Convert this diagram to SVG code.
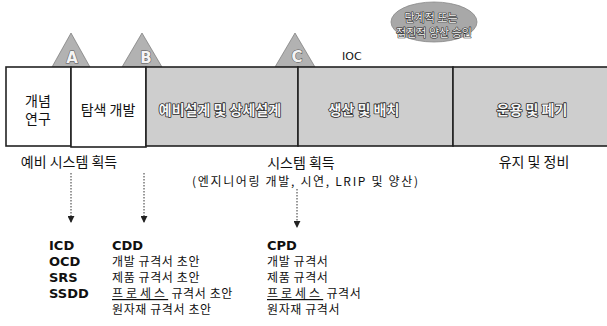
<svg xmlns="http://www.w3.org/2000/svg" width="607" height="326" viewBox="0 0 607 326">
<defs>
<style>
.k{font-family:"Noto Sans CJK KR","DejaVu Sans",sans-serif;fill:#111}
.box{stroke:#222;stroke-width:1.6}
.w{fill:#fff}
.g{fill:#cecece}
.tri{fill:#b2b2b2;stroke:#666;stroke-width:0.6}
.emb{font-family:"Noto Sans CJK KR","DejaVu Sans",sans-serif;font-weight:bold;fill:#f6f6f6;stroke:#2a2a2a;stroke-width:1.6;paint-order:stroke;stroke-linejoin:round}
.lt{font-family:"DejaVu Sans","Liberation Sans",sans-serif;font-weight:bold;fill:#f4f4f4;stroke:#555;stroke-width:1;paint-order:stroke}
.b{font-family:"DejaVu Sans","Liberation Sans",sans-serif;font-weight:bold;font-size:13px;fill:#111}
.d{stroke:#333;stroke-width:1;stroke-dasharray:1.5 1.5;fill:none}
.doc{font-size:12px;letter-spacing:0.6px}
</style>
<marker id="ah" viewBox="0 0 8 8" refX="7" refY="4" markerWidth="7" markerHeight="7" orient="auto" markerUnits="userSpaceOnUse">
<path d="M0,0 L8,4 L0,8 z" fill="#222"/>
</marker>
</defs>
<rect width="607" height="326" fill="#fff"/>

<g id="ellipse">
<ellipse cx="434" cy="22" rx="43" ry="20" fill="#a8a8a8" stroke="#888" stroke-width="0.8"/>
<text class="emb" x="431" y="22" font-size="11" text-anchor="middle" style="stroke-width:1.2;font-weight:normal">단계적 또는</text>
<text class="emb" x="434" y="37" font-size="11" text-anchor="middle" style="stroke-width:1.2;font-weight:normal">점진적 양산 승인</text>
</g>

<g id="milestone-A">
<polygon class="tri" points="71,33 52,67 90,67"/>
<text class="lt" x="72" y="63" font-size="15" text-anchor="middle">A</text>
</g>
<g id="milestone-B">
<polygon class="tri" points="142,33 122,67 162,67"/>
<text class="lt" x="146" y="63" font-size="15" text-anchor="middle">B</text>
</g>
<g id="milestone-C">
<polygon class="tri" points="295,33 275,67 315,67"/>
<text class="lt" x="297" y="62" font-size="15" text-anchor="middle">C</text>
</g>

<g id="ioc">
<text x="342" y="60" font-family="DejaVu Sans, sans-serif" font-size="11" fill="#111">IOC</text>
</g>

<g id="phase-concept">
<rect class="box w" x="6" y="67" width="65" height="79"/>
<text class="k" x="38" y="106" font-size="14" text-anchor="middle">개념</text>
<text class="k" x="38" y="124" font-size="14" text-anchor="middle">연구</text>
</g>
<g id="phase-tech">
<rect class="box w" x="71" y="67" width="75" height="80"/>
<text class="k" x="108" y="115" font-size="14" text-anchor="middle">탐색 개발</text>
</g>
<g id="phase-design">
<rect class="box g" x="146" y="67" width="152" height="79"/>
<text class="emb" x="220" y="115" font-size="14" text-anchor="middle">예비설계 및 상세설계</text>
</g>
<g id="phase-production">
<rect class="box g" x="298" y="67" width="155" height="79"/>
<text class="emb" x="364" y="115" font-size="14" text-anchor="middle">생산 및 배치</text>
</g>
<g id="phase-ops">
<rect class="box g" x="453" y="67" width="156" height="79"/>
<text class="emb" x="532" y="115" font-size="14" text-anchor="middle">운용 및 폐기</text>
</g>

<g id="labels">
<text class="k" x="69" y="167" font-size="14" text-anchor="middle">예비 시스템 획득</text>
<text class="k" x="301" y="168" font-size="14" text-anchor="middle">시스템 획득</text>
<text class="k" x="192" y="186" font-size="12" textLength="226" lengthAdjust="spacing">(엔지니어링 개발, 시연, LRIP 및 양산)</text>
<text class="k" x="534" y="167" font-size="14" text-anchor="middle">유지 및 정비</text>
</g>

<g id="connectors">
<line class="d" x1="71" y1="173" x2="71" y2="222" marker-end="url(#ah)"/>
<line class="d" x1="144" y1="173" x2="144" y2="222" marker-end="url(#ah)"/>
<line class="d" x1="297" y1="189" x2="297" y2="227" marker-end="url(#ah)"/>
</g>

<g id="docs-A">
<text class="b" x="49" y="250">ICD</text>
<text class="b" x="49" y="266">OCD</text>
<text class="b" x="49" y="282">SRS</text>
<text class="b" x="49" y="298">SSDD</text>
</g>
<g id="docs-B">
<text class="b" x="112" y="250">CDD</text>
<text class="k doc" x="112" y="266">개발 규격서 초안</text>
<text class="k doc" x="112" y="282">제품 규격서 초안</text>
<text class="k doc" x="112" y="298"><tspan text-decoration="underline" letter-spacing="3">프로세스</tspan> 규격서 초안</text>
<text class="k doc" x="112" y="314">원자재 규격서 초안</text>
</g>
<g id="docs-C">
<text class="b" x="267" y="250">CPD</text>
<text class="k doc" x="267" y="266">개발 규격서</text>
<text class="k doc" x="267" y="282">제품 규격서</text>
<text class="k doc" x="267" y="298"><tspan text-decoration="underline" letter-spacing="3">프로세스</tspan> 규격서</text>
<text class="k doc" x="267" y="314">원자재 규격서</text>
</g>
</svg>
